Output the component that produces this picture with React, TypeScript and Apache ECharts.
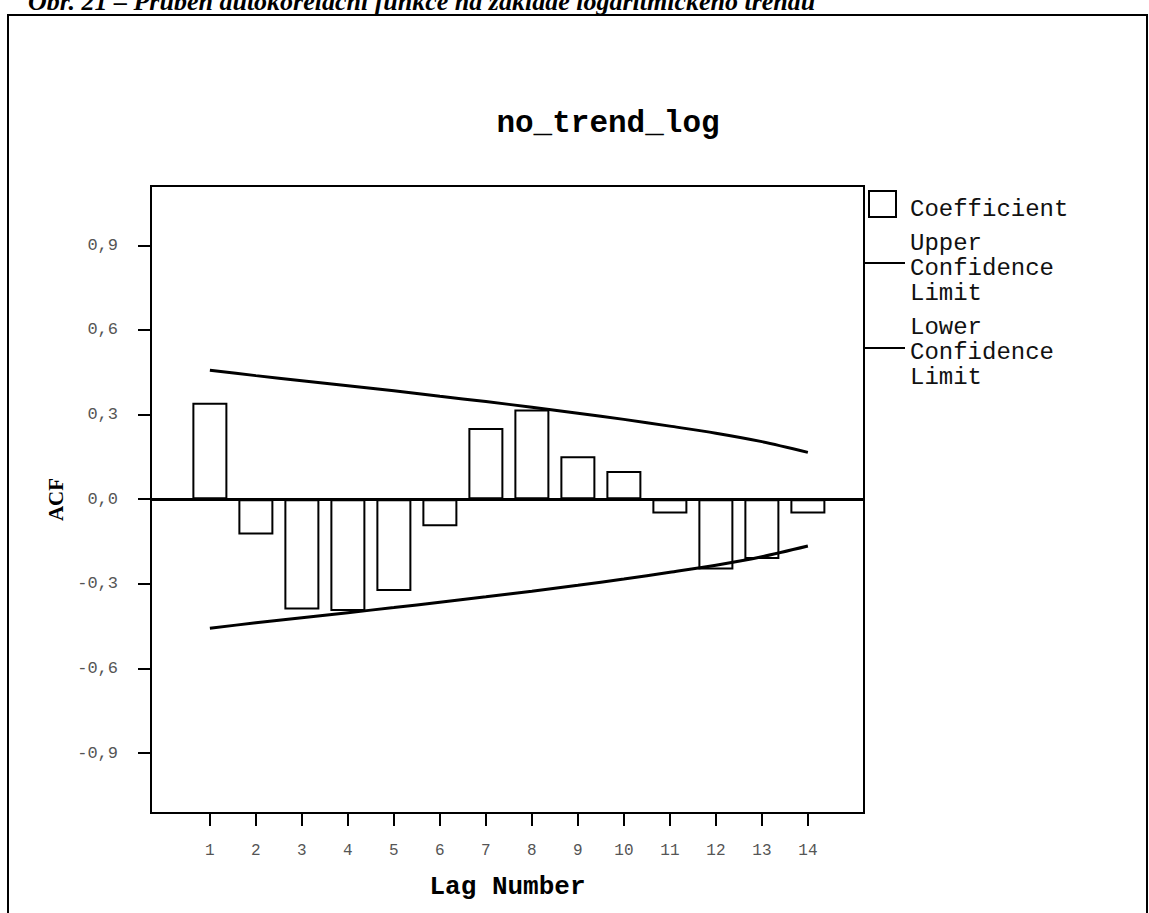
import React, { useEffect, useRef } from "react";
import * as echarts from "echarts";

const lags = [1, 2, 3, 4, 5, 6, 7, 8, 9, 10, 11, 12, 13, 14];
const acfValues = [0.342, -0.125, -0.391, -0.396, -0.325, -0.096, 0.252, 0.318, 0.152, 0.1, -0.051, -0.249, -0.212, -0.051];
const upperLimit = [0.457, 0.438, 0.42, 0.402, 0.384, 0.365, 0.346, 0.326, 0.305, 0.283, 0.259, 0.234, 0.204, 0.166];
const lowerLimit = upperLimit.map((v) => -v);
const yTicks = [-0.9, -0.6, -0.3, 0, 0.3, 0.6, 0.9];

const chartTitle = "no_trend_log";
const caption = "Obr. 21 – Průběh autokorelační funkce na základě logaritmického trendu";

const MONO = "'Liberation Mono', 'DejaVu Sans Mono', monospace";
const SERIF = "'Liberation Serif', 'DejaVu Serif', serif";

export default function App() {
  const ref = useRef<HTMLDivElement>(null);
  useEffect(() => {
    if (!ref.current) return;
    const chart = echarts.init(ref.current, null, { renderer: "svg" });
    const fmt = (v: number) => {
      const s = Math.abs(v) < 1e-9 ? "0.0" : v.toFixed(1);
      return s.replace(".", ",");
    };
    chart.setOption({
      animation: false,
      backgroundColor: "#ffffff",
      grid: {
        left: 151,
        top: 186,
        right: 285,
        bottom: 100,
        outerBoundsMode: "none",
        containLabel: false,
        show: true,
        borderColor: "#000",
        borderWidth: 2,
        backgroundColor: "transparent",
      },
      xAxis: {
        type: "value",
        min: -0.28,
        max: 15.22,
        splitLine: { show: false },
        axisLine: { show: true, onZero: false, lineStyle: { color: "#000", width: 2 } },
        axisTick: {
          show: true,
          customValues: lags,
          length: 13,
          inside: false,
          lineStyle: { color: "#000", width: 2 },
        },
        axisLabel: {
          customValues: lags,
          margin: 30,
          fontFamily: MONO,
          fontSize: 16,
          color: "#555",
        },
        name: "Lag Number",
        nameLocation: "middle",
        nameGap: 61,
        nameTextStyle: { fontFamily: MONO, fontWeight: "bold", fontSize: 26, color: "#000" },
      },
      yAxis: {
        type: "value",
        min: -1.112,
        max: 1.11,
        splitLine: { show: false },
        axisLine: { show: true, onZero: false, lineStyle: { color: "#000", width: 2 } },
        axisTick: {
          show: true,
          customValues: yTicks,
          length: 13,
          inside: false,
          lineStyle: { color: "#000", width: 2 },
        },
        axisLabel: {
          customValues: yTicks,
          margin: 33,
          formatter: fmt,
          fontFamily: MONO,
          fontSize: 17,
          color: "#555",
        },
        name: "ACF",
        nameLocation: "middle",
        nameRotate: 90,
        nameGap: 82,
        nameTextStyle: { fontFamily: SERIF, fontWeight: "bold", fontSize: 21, color: "#000" },
      },
      series: [
        {
          type: "bar",
          name: "Coefficient",
          data: lags.map((l, i) => [l, acfValues[i]]),
          barWidth: 35,
          itemStyle: { color: "#fff", borderColor: "#000", borderWidth: 2 },
          z: 2,
          markLine: {
            silent: true,
            symbol: ["none", "none"],
            label: { show: false },
            lineStyle: { color: "#000", width: 3, type: "solid" },
            data: [{ yAxis: 0 }],
            z: 4,
          },
        },
        {
          type: "line",
          name: "Upper Confidence Limit",
          data: lags.map((l, i) => [l, upperLimit[i]]),
          smooth: 0.3,
          showSymbol: false,
          lineStyle: { color: "#000", width: 3 },
          z: 5,
        },
        {
          type: "line",
          name: "Lower Confidence Limit",
          data: lags.map((l, i) => [l, lowerLimit[i]]),
          smooth: 0.3,
          showSymbol: false,
          lineStyle: { color: "#000", width: 3 },
          z: 5,
        },
      ],
      graphic: [
        {
          type: "rect",
          shape: { x: 8, y: 15, width: 1139, height: 920 },
          style: { fill: "none", stroke: "#000", lineWidth: 2 },
          z: 0,
          silent: true,
        },
        {
          type: "text",
          x: 28,
          y: 1,
          style: {
            text: caption,
            font: `italic bold 26px ${SERIF}`,
            fill: "#000",
            textAlign: "left",
            textVerticalAlign: "middle",
          },
        },
        {
          type: "text",
          x: 608,
          y: 123,
          style: {
            text: chartTitle,
            font: `bold 31px ${MONO}`,
            fill: "#000",
            textAlign: "center",
            textVerticalAlign: "middle",
          },
        },
        {
          type: "rect",
          shape: { x: 869, y: 191, width: 27, height: 26 },
          style: { fill: "#fff", stroke: "#000", lineWidth: 2 },
        },
        {
          type: "text",
          x: 910,
          y: 209,
          style: {
            text: "Coefficient",
            font: `24px ${MONO}`,
            fill: "#111",
            textAlign: "left",
            textVerticalAlign: "middle",
          },
        },
        {
          type: "text",
          x: 910,
          y: 268,
          style: {
            text: "Upper\nConfidence\nLimit",
            font: `24px ${MONO}`,
            lineHeight: 25,
            fill: "#111",
            textAlign: "left",
            textVerticalAlign: "middle",
          },
        },
        {
          type: "line",
          shape: { x1: 864, y1: 263, x2: 905, y2: 263 },
          style: { stroke: "#000", lineWidth: 2 },
        },
        {
          type: "text",
          x: 910,
          y: 352,
          style: {
            text: "Lower\nConfidence\nLimit",
            font: `24px ${MONO}`,
            lineHeight: 25,
            fill: "#111",
            textAlign: "left",
            textVerticalAlign: "middle",
          },
        },
        {
          type: "line",
          shape: { x1: 864, y1: 348, x2: 905, y2: 348 },
          style: { stroke: "#000", lineWidth: 2 },
        },
      ],
    });
    return () => chart.dispose();
  }, []);
  return (
    <div
      ref={ref}
      style={{ position: "fixed", left: 0, top: 0, width: 1149, height: 913, background: "#fff" }}
    />
  );
}
